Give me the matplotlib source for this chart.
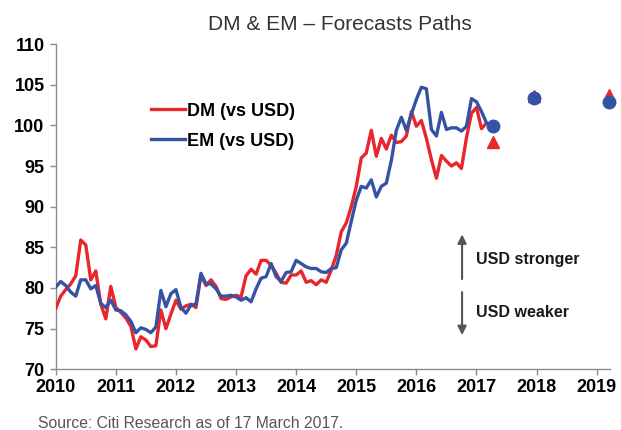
import numpy as np
import matplotlib
matplotlib.use("Agg")
import matplotlib.pyplot as plt

plt.rcParams['font.family'] = ['Liberation Sans', 'DejaVu Sans']

# monthly index levels, starting Jan 2010
start_year = 2010
dm_values = [77.5, 79.0, 79.8, 80.5, 81.5, 85.9, 85.3, 81.0, 82.1, 78.0, 76.2, 80.2,
             77.6, 77.0, 76.3, 75.3, 72.5, 74.0, 73.6, 72.8, 72.9, 77.3, 75.0, 76.8,
             78.5, 77.4, 77.8, 78.0, 77.6, 81.6, 80.3, 81.0, 80.2, 78.7, 78.6, 78.9,
             79.1, 78.9, 81.5, 82.3, 81.7, 83.4, 83.4, 82.8, 81.8, 80.7, 80.6, 81.6,
             81.6, 82.1, 80.7, 80.9, 80.4, 81.0, 80.7, 82.2, 84.0, 86.9, 88.0, 90.0,
             92.5, 96.0, 96.6, 99.4, 96.2, 98.4, 97.1, 98.8, 97.9, 98.0, 98.7, 101.7,
             99.9, 100.6, 98.4, 95.8, 93.5, 96.3, 95.6, 95.0, 95.4, 94.7, 98.5, 101.5,
             102.2, 99.6, 100.3]
em_values = [80.1, 80.8, 80.3, 79.5, 79.0, 81.0, 81.0, 79.9, 80.3, 78.1, 77.6, 78.5,
             77.3, 77.2, 76.7, 75.9, 74.5, 75.1, 74.9, 74.5, 75.2, 79.7, 77.7, 79.3,
             79.8, 77.6, 76.9, 77.9, 78.0, 81.8, 80.5, 80.5, 79.9, 79.0, 79.0, 79.1,
             78.9, 78.5, 78.8, 78.3, 79.9, 81.2, 81.4, 83.0, 81.4, 80.8, 81.9, 82.0,
             83.4, 83.0, 82.6, 82.4, 82.4, 82.0, 81.9, 82.4, 82.5, 84.7, 85.5, 88.2,
             90.8, 92.5, 92.3, 93.3, 91.2, 92.5, 92.9, 95.7, 99.4, 101.0, 99.4, 101.4,
             103.2, 104.7, 104.5, 99.5, 98.7, 101.6, 99.5, 99.7, 99.7, 99.3, 99.9, 103.3,
             102.9, 101.7, 100.3, 99.9]

# forecast points
forecast_dates = [2017.28, 2017.96, 2019.2]
dm_forecast = [98.0, 103.6, 103.7]
em_forecast = [99.9, 103.4, 102.9]

year_ticks = list(range(2010, 2020))
red = '#e8262b'
blue = '#3553a5'

dm_x = start_year + np.arange(len(dm_values)) / 12
em_x = start_year + np.arange(len(em_values)) / 12

fig = plt.figure(figsize=(6.21, 4.30), dpi=100)
ax = fig.add_axes([0.0897, 0.1412, 0.8925, 0.7562])

ax.plot(dm_x, dm_values, color=red, lw=2.4, label='DM (vs USD)', zorder=3)
ax.plot(em_x, em_values, color=blue, lw=2.4, label='EM (vs USD)', zorder=3)
ax.plot(forecast_dates, dm_forecast, ls='none', marker='^', ms=8, color=red, zorder=4,
        clip_on=False)
ax.plot(forecast_dates, em_forecast, ls='none', marker='o', ms=9, color=blue, zorder=5,
        clip_on=False)

ax.set_xlim(2010, 2019.22)
ax.set_ylim(70, 110)
ax.set_xticks(year_ticks)
ax.set_yticks(range(70, 111, 5))

for s in ['top', 'right']:
    ax.spines[s].set_visible(False)
for s in ['left', 'bottom']:
    ax.spines[s].set_color('#8c8c8c')
    ax.spines[s].set_linewidth(1.0)
ax.tick_params(axis='both', colors='#8c8c8c', length=4, width=1.0, labelcolor='black',
               labelsize=13)
ax.tick_params(axis='y', pad=4)
ax.tick_params(axis='x', pad=3)
for lab in ax.get_xticklabels() + ax.get_yticklabels():
    lab.set_fontweight('bold')

leg = ax.legend(loc='upper left', bbox_to_anchor=(0.155, 0.848), frameon=False,
                prop={'weight': 'bold', 'size': 13}, handlelength=1.9,
                handletextpad=0.1, labelspacing=0.72, borderpad=0)

# USD stronger / weaker arrows
ax.annotate('', xy=(2016.76, 86.6), xytext=(2016.76, 81.1),
            arrowprops=dict(arrowstyle='-|>', color='#555555', lw=1.5,
                            mutation_scale=13, shrinkA=0, shrinkB=0))
ax.annotate('', xy=(2016.76, 74.2), xytext=(2016.76, 79.5),
            arrowprops=dict(arrowstyle='-|>', color='#555555', lw=1.5,
                            mutation_scale=13, shrinkA=0, shrinkB=0))
ax.text(2017.0, 83.5, 'USD stronger', fontsize=11.5, fontweight='bold', va='center',
        color='#1a1a1a')
ax.text(2017.0, 77.0, 'USD weaker', fontsize=11.5, fontweight='bold', va='center',
        color='#1a1a1a')

fig.text(0.548, 0.944, 'DM & EM \u2013 Forecasts Paths', ha='center', va='center',
         fontsize=15, color='#333333')
fig.text(0.061, 0.014, 'Source: Citi Research as of 17 March 2017.', ha='left',
         va='center', fontsize=11.3, color='#555555')

fig.savefig('out.png', dpi=100)
